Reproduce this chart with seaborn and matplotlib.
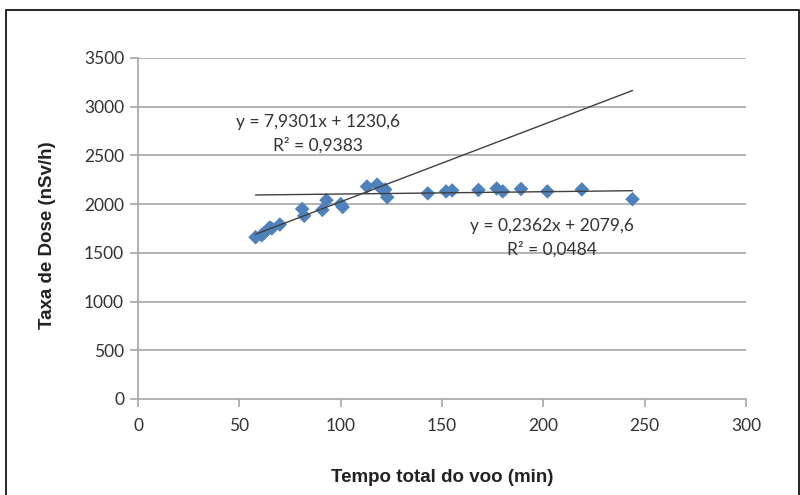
import seaborn as sns
import matplotlib.pyplot as plt
import matplotlib.patches as mpatches
import pandas as pd
import numpy as np

# values
tempo = [58, 61, 62, 65, 66, 70, 81, 82, 91, 93, 100, 101, 113, 118, 121, 122, 123,
         143, 152, 155, 168, 177, 180, 189, 202, 219, 244]
taxa = [1660, 1680, 1700, 1760, 1750, 1790, 1950, 1880, 1940, 2040, 2000, 1970, 2180, 2200,
        2140, 2150, 2070, 2110, 2130, 2140, 2145, 2160, 2130, 2155, 2130, 2150, 2050]

# trendlines (slope, intercept) as printed on the chart
fit1 = (7.9301, 1230.6)
fit2 = (0.2362, 2079.6)
eq1 = ["y = 7,9301x + 1230,6", "R² = 0,9383"]
eq2 = ["y = 0,2362x + 2079,6", "R² = 0,0484"]

df = pd.DataFrame({"tempo": tempo, "taxa": taxa})

sns.set_style("white")
plt.rcParams['font.family'] = ['Lato', 'DejaVu Sans']

fig = plt.figure(figsize=(8, 4.95), dpi=100)
ax = fig.add_axes([0.1725, 0.194, 0.76, 0.689])

# outer frame
fig.patches.append(mpatches.Rectangle((0.0075, -0.02), 0.991, 0.9998, transform=fig.transFigure,
                                      fill=False, edgecolor='black', linewidth=1.2))

for v in range(500, 3501, 500):
    ax.axhline(v, color='#a6a6a6', linewidth=1.2, zorder=0)

xs = np.array([min(tempo), max(tempo)])
ax.plot(xs, fit1[0] * xs + fit1[1], color='#404040', linewidth=1.0, zorder=3)
ax.plot(xs, fit2[0] * xs + fit2[1], color='#404040', linewidth=1.0, zorder=3)

sns.scatterplot(data=df, x="tempo", y="taxa", marker='D', s=55, color='#4F81BD',
                edgecolor='none', ax=ax, zorder=2)

ax.text(89, 2844, eq1[0], ha='center', va='center', fontsize=12.5, color='#333333')
ax.text(89, 2597, eq1[1], ha='center', va='center', fontsize=12.5, color='#333333')
ax.text(204, 1776, eq2[0], ha='center', va='center', fontsize=12.5, color='#333333')
ax.text(204, 1530, eq2[1], ha='center', va='center', fontsize=12.5, color='#333333')

ax.set_xlim(0, 300)
ax.set_ylim(0, 3500)
ax.set_xticks(range(0, 301, 50))
ax.set_yticks(range(0, 3501, 500))
for side in ['top', 'right']:
    ax.spines[side].set_visible(False)
for side in ['left', 'bottom']:
    ax.spines[side].set_color('#a6a6a6')
    ax.spines[side].set_linewidth(1.2)
ax.tick_params(axis='both', direction='out', length=6, width=1.2, color='#a6a6a6',
               labelsize=12.5, labelcolor='#333333', left=True, bottom=True)
ax.tick_params(axis='x', pad=8)
ax.tick_params(axis='y', pad=4)

lab_font = ['Liberation Sans', 'DejaVu Sans']
ax.set_xlabel("Tempo total do voo (min)", fontsize=13.5, fontweight='bold', family=lab_font,
              color='#222222')
ax.set_ylabel("Taxa de Dose (nSv/h)", fontsize=13.5, fontweight='bold', family=lab_font,
              color='#222222')
ax.xaxis.set_label_coords(0.5, -0.205)
ax.yaxis.set_label_coords(-0.135, 0.48)

fig.savefig("out.png", dpi=100)
